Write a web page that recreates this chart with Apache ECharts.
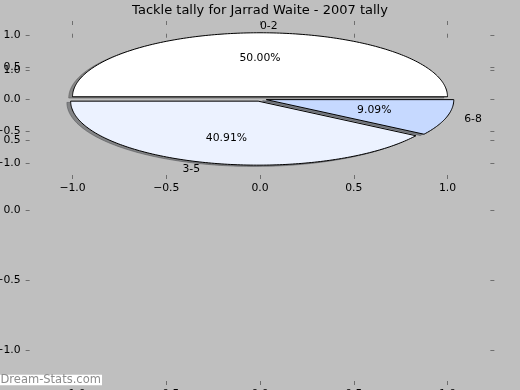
<!DOCTYPE html>
<html>
<head>
<meta charset="utf-8">
<script src="https://cdn.jsdelivr.net/npm/echarts@6/dist/echarts.min.js"></script>
<style>
html,body{margin:0;padding:0;background:#bfbfbf;}
#c{width:520px;height:390px;}
</style>
</head>
<body>
<div id="c"></div>
<script>
const titleText = 'Tackle tally for Jarrad Waite - 2007 tally';
const categories = ['0-2', '3-5', '6-8'];
const values = [11, 9, 2];
const colors = ['#ffffff', '#ecf2ff', '#c6d9ff'];
const tickValues = [-1, -0.5, 0, 0.5, 1];
const tickLabels = ['\u22121.0', '\u22120.5', '0.0', '0.5', '1.0'];
const watermark = 'Dream-Stats.com';

const EXPLODE = 0.035;
const SHADOW_OFF = -0.02;
const FONT = '"DejaVu Sans", sans-serif';
const FS = 10.8;
const TICK_COLOR = '#6e6e6e';

const total = values.reduce((a, b) => a + b, 0);
const angles = [];
let acc = 0;
values.forEach(v => { const a1 = acc; acc += 360 * v / total; angles.push([a1, acc]); });

function wedge(api, i, dx, dy) {
  const a1 = angles[i][0] * Math.PI / 180, a2 = angles[i][1] * Math.PI / 180;
  const m = (a1 + a2) / 2;
  const cx = EXPLODE * Math.cos(m) + dx, cy = EXPLODE * Math.sin(m) + dy;
  const pts = [api.coord([cx, cy])];
  const n = Math.max(8, Math.ceil((a2 - a1) / (Math.PI / 180)));
  for (let k = 0; k <= n; k++) {
    const t = a1 + (a2 - a1) * k / n;
    pts.push(api.coord([cx + Math.cos(t), cy + Math.sin(t)]));
  }
  return { pts, cx, cy, m };
}

function shade(hex) {
  const r = parseInt(hex.substr(1, 2), 16) * 0.3, g = parseInt(hex.substr(3, 2), 16) * 0.3, b = parseInt(hex.substr(5, 2), 16) * 0.3;
  return 'rgba(' + r.toFixed(0) + ',' + g.toFixed(0) + ',' + b.toFixed(0) + ',0.5)';
}

const fmt = v => { const i = tickValues.indexOf(v); return i >= 0 ? tickLabels[i] : ''; };

function axisPair(grid, dir, min, max, showLabel) {
  return {
    type: 'value', gridIndex: grid, min: min, max: max,
    position: dir,
    axisLine: { show: false, onZero: false },
    splitLine: { show: false },
    axisTick: { show: true, inside: true, length: 4, customValues: tickValues, lineStyle: { color: TICK_COLOR, width: 1 } },
    axisLabel: { show: showLabel, customValues: tickValues, formatter: fmt, color: '#000', fontSize: FS, fontFamily: FONT, margin: (dir === 'bottom' ? 4 : 5) }
  };
}

const chart = echarts.init(document.getElementById('c'), null, { renderer: 'canvas' });
const data = values.map((v, i) => [0, 0, i]);

chart.setOption({
  animation: false,
  backgroundColor: '#bfbfbf',
  title: { text: titleText, left: 'center', top: -1, textStyle: { fontFamily: FONT, fontSize: 13, fontWeight: 'normal', color: '#000' } },
  grid: [
    { left: 25.625, width: 468.75, top: 33.72, height: 145.28, containLabel: false, outerBoundsMode: 'none' },
    { left: 25.625, width: 468.75, top: 21, height: 364, containLabel: false, outerBoundsMode: 'none' }
  ],
  xAxis: [
    axisPair(0, 'bottom', -1.25, 1.25, true),
    axisPair(0, 'top', -1.25, 1.25, false),
    axisPair(1, 'bottom', -1.25, 1.25, true),
    axisPair(1, 'top', -1.25, 1.25, false)
  ],
  yAxis: [
    axisPair(0, 'left', -1.25, 1.02, true),
    axisPair(0, 'right', -1.25, 1.02, false),
    axisPair(1, 'left', -1.25, 1.35, true),
    axisPair(1, 'right', -1.25, 1.35, false)
  ],
  graphic: [
    { type: 'rect', left: 0, top: 374.7, shape: { width: 102, height: 10.6 }, style: { fill: '#ffffff' }, z: 100 },
    { type: 'text', left: 0.5, top: 374, style: { text: watermark, fill: '#8c8c8c', font: '11.5px ' + FONT }, z: 101 }
  ],
  series: [
    {
      type: 'custom', xAxisIndex: 0, yAxisIndex: 0, z: 1, data: data, clip: false,
      renderItem: function (params, api) {
        const i = params.dataIndex;
        const w = wedge(api, i, SHADOW_OFF, SHADOW_OFF);
        const c = shade(colors[i]);
        return { type: 'polygon', shape: { points: w.pts }, style: { fill: c, stroke: c, lineWidth: 1 } };
      }
    },
    {
      type: 'custom', xAxisIndex: 0, yAxisIndex: 0, z: 2, data: data, clip: false,
      renderItem: function (params, api) {
        const i = params.dataIndex;
        const w = wedge(api, i, 0, 0);
        const lx = w.cx + 1.1 * Math.cos(w.m), ly = w.cy + 1.1 * Math.sin(w.m);
        const px = w.cx + 0.6 * Math.cos(w.m), py = w.cy + 0.6 * Math.sin(w.m);
        const lp = api.coord([lx, ly]), pp = api.coord([px, py]);
        return {
          type: 'group',
          children: [
            { type: 'polygon', shape: { points: w.pts }, style: { fill: colors[i], stroke: '#000', lineWidth: 1 } },
            { type: 'text', x: lp[0], y: lp[1], style: { text: categories[i], fill: '#000', font: FS + 'px ' + FONT, align: (Math.cos(w.m) > 0 ? 'left' : 'right'), verticalAlign: 'middle' } },
            { type: 'text', x: pp[0], y: pp[1], style: { text: (100 * values[i] / total).toFixed(2) + '%', fill: '#000', font: FS + 'px ' + FONT, align: 'center', verticalAlign: 'middle' } }
          ]
        };
      }
    }
  ]
});
</script>
</body>
</html>
